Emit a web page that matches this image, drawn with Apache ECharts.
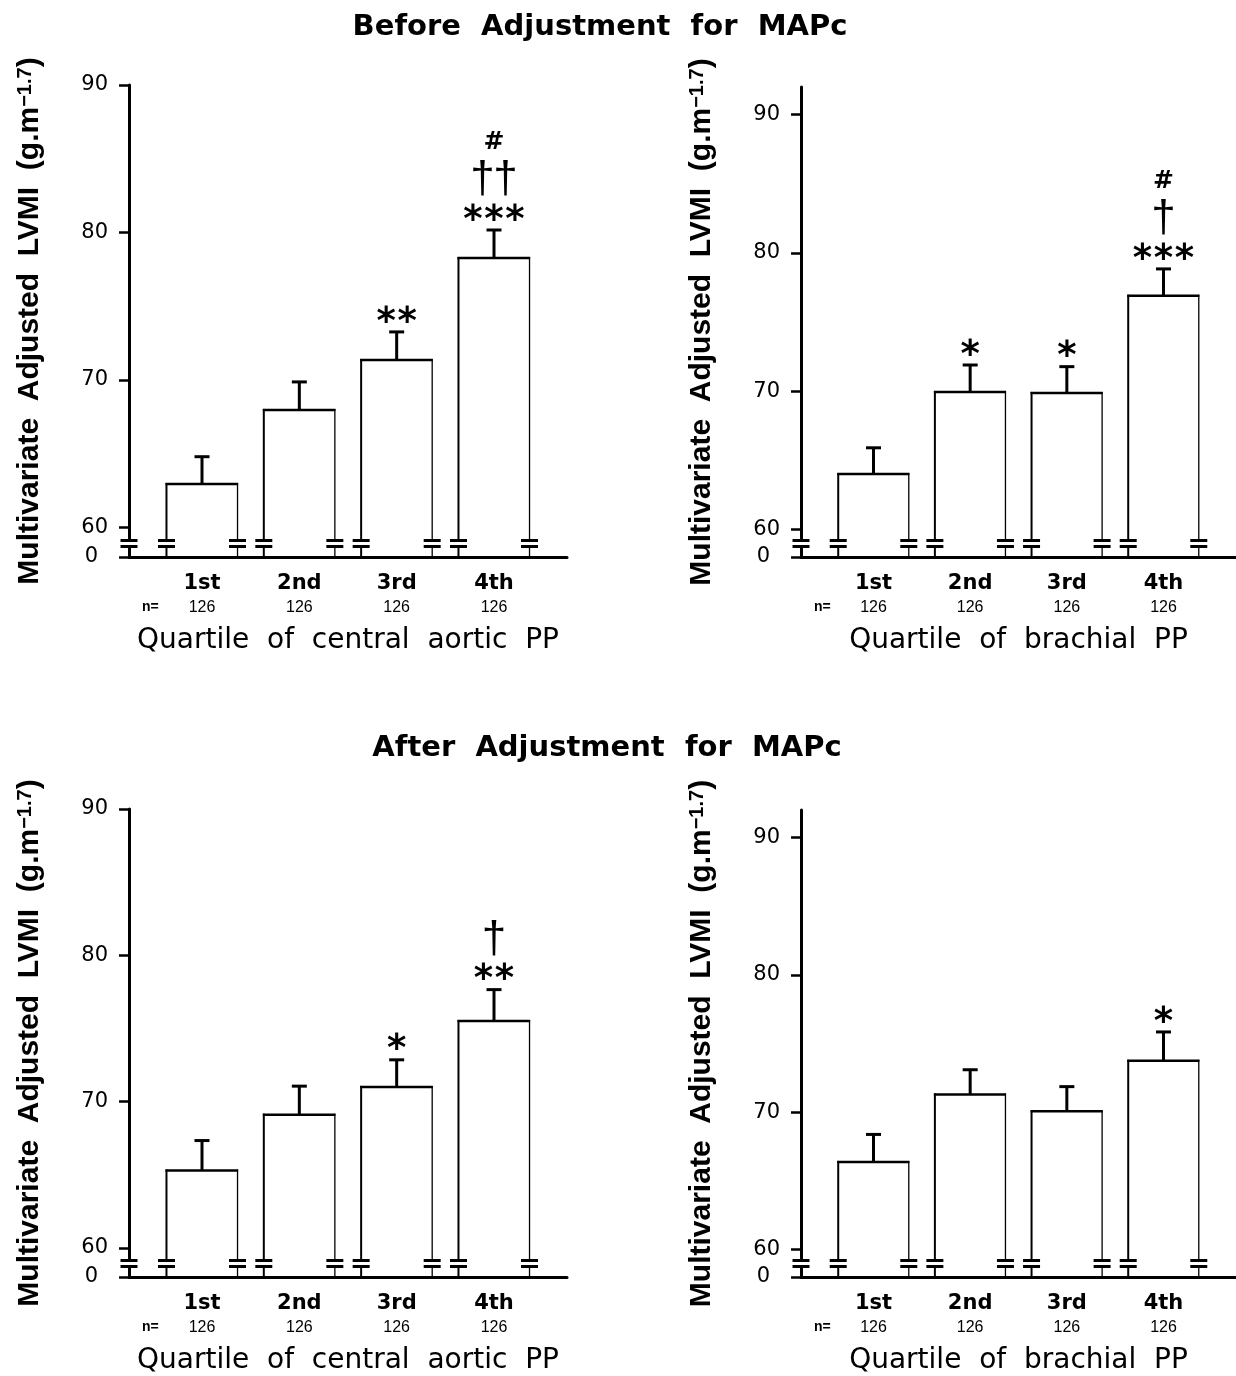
<!DOCTYPE html>
<html>
<head>
<meta charset="utf-8">
<script src="https://cdn.jsdelivr.net/npm/echarts@6/dist/echarts.min.js"></script>
<style>
  html, body { margin: 0; padding: 0; background: #fff; }
  #chart { width: 1236px; height: 1376px; }
</style>
</head>
<body>
<div id="chart"></div>
<script>
// quartile categories and group sizes
var quartiles = ['1st', '2nd', '3rd', '4th'];
var groupSizes = [126, 126, 126, 126];
var yTickValues = [60, 70, 80, 90];

// before adjustment for MAPc
var beforeCentralMean = [62.95, 67.97, 71.36, 78.27];
var beforeCentralSem = [1.85, 1.9, 1.9, 1.9];
var beforeCentralStars = ['', '', '**', '***'];
var beforeCentralDaggers = ['', '', '', '††'];
var beforeCentralHashes = ['', '', '', '#'];

var beforeBrachialMean = [64.0, 69.94, 69.87, 76.89];
var beforeBrachialSem = [1.9, 1.95, 1.9, 1.95];
var beforeBrachialStars = ['', '*', '*', '***'];
var beforeBrachialDaggers = ['', '', '', '†'];
var beforeBrachialHashes = ['', '', '', '#'];

// after adjustment for MAPc
var afterCentralMean = [65.28, 69.1, 71.0, 75.5];
var afterCentralSem = [2.05, 1.95, 1.85, 2.15];
var afterCentralStars = ['', '', '*', '**'];
var afterCentralDaggers = ['', '', '', '†'];
var afterCentralHashes = ['', '', '', ''];

var afterBrachialMean = [66.38, 71.29, 70.06, 73.74];
var afterBrachialSem = [2.0, 1.8, 1.8, 2.1];
var afterBrachialStars = ['', '', '', '*'];
var afterBrachialDaggers = ['', '', '', ''];
var afterBrachialHashes = ['', '', '', ''];

var Y_MIN = 58;      // baseline, shown as "0" (broken axis)
var BAR_W = 0.73;    // bar width in x units
var BLACK = '#000';

var panels = [
  { grid: { left: 129, top: 85, width: 438, height: 472 }, yMax: 90,
    xName: 'Quartile  of  central  aortic  PP',
    mean: beforeCentralMean, sem: beforeCentralSem,
    stars: beforeCentralStars, daggers: beforeCentralDaggers, hashes: beforeCentralHashes },
  { grid: { left: 801, top: 87, width: 435, height: 470 }, yMax: 92,
    xName: 'Quartile  of  brachial  PP',
    mean: beforeBrachialMean, sem: beforeBrachialSem,
    stars: beforeBrachialStars, daggers: beforeBrachialDaggers, hashes: beforeBrachialHashes },
  { grid: { left: 129, top: 809, width: 438, height: 470 }, yMax: 90,
    xName: 'Quartile  of  central  aortic  PP',
    mean: afterCentralMean, sem: afterCentralSem,
    stars: afterCentralStars, daggers: afterCentralDaggers, hashes: afterCentralHashes },
  { grid: { left: 801, top: 810, width: 435, height: 471 }, yMax: 92,
    xName: 'Quartile  of  brachial  PP',
    mean: afterBrachialMean, sem: afterBrachialSem,
    stars: afterBrachialStars, daggers: afterBrachialDaggers, hashes: afterBrachialHashes }
];

function seg(x1, y1, x2, y2, w) {
  return { type: 'line', shape: { x1: x1, y1: y1, x2: x2, y2: y2 },
           style: { stroke: BLACK, lineWidth: w, lineCap: 'butt' } };
}

// the "=" break mark drawn across a vertical line at x
function breakMark(x, yb) {
  return [
    { type: 'rect', shape: { x: x - 3, y: yb - 15, width: 6, height: 3 }, style: { fill: '#fff' } },
    seg(x - 8.5, yb - 16.5, x + 8.5, yb - 16.5, 3),
    seg(x - 8.5, yb - 10.5, x + 8.5, yb - 10.5, 3)
  ];
}

function spaced(str) {
  // each mark in its own box so they sit apart like the original
  return str.split('').map(function (c) { return '{s|' + c + '}'; }).join('');
}

function makeRender(panel) {
  return function (params, api) {
    var idx = params.dataIndex;
    var xv = api.value(0), mean = api.value(1), sem = api.value(2);
    var top = api.coord([xv, mean]);
    var base = api.coord([xv, Y_MIN]);
    var cap = api.coord([xv, mean + sem]);
    var w = api.size([BAR_W, 0])[0];
    var x0 = top[0] - w / 2, x1 = top[0] + w / 2;
    var yt = top[1], yb = base[1], yc = cap[1];
    var kids = [];
    kids.push({ type: 'rect', shape: { x: x0, y: yt, width: w, height: yb - yt - 2 }, style: { fill: '#fff' } });
    kids.push(seg(x0, yt - 1, x0, yb, 2));
    kids.push(seg(x1, yt - 1, x1, yb, 1.3));
    kids.push(seg(x0 - 1, yt, x1 + 0.6, yt, 2.5));
    kids = kids.concat(breakMark(x0, yb), breakMark(x1, yb));
    if (idx === 0) {
      kids = kids.concat(breakMark(params.coordSys.x, yb));
    }
    kids.push(seg(top[0], yt, top[0], yc, 3));
    kids.push(seg(top[0] - 7.5, yc, top[0] + 7.5, yc, 3));

    var st = panel.stars[idx], dg = panel.daggers[idx], hs = panel.hashes[idx];
    if (st) {
      kids.push({ type: 'text', style: {
        text: spaced(st), x: top[0], y: yc - 9, align: 'center', verticalAlign: 'middle',
        rich: { s: { width: 21, align: 'center', fontFamily: 'DejaVu Sans', fontWeight: 'bold', fontSize: 37, fill: BLACK } }
      } });
    }
    if (dg) {
      kids.push({ type: 'text', style: {
        text: spaced(dg), x: top[0], y: yc - 50, align: 'center', verticalAlign: 'middle',
        rich: { s: { width: 23, align: 'center', fontFamily: 'Liberation Sans', fontSize: 44, fill: BLACK } }
      } });
    }
    if (hs) {
      kids.push({ type: 'text', style: {
        text: hs, x: top[0], y: yc - 87, align: 'center', verticalAlign: 'middle',
        fontFamily: 'DejaVu Sans', fontWeight: 'bold', fontSize: 25, fill: BLACK
      } });
    }
    return { type: 'group', children: kids };
  };
}

var grids = [], xAxes = [], yAxes = [], series = [];
panels.forEach(function (p, i) {
  grids.push(p.grid);
  xAxes.push({
    type: 'value', gridIndex: i, min: 0.25, max: 4.75,
    splitLine: { show: false },
    axisTick: { show: false },
    axisLine: { onZero: false, lineStyle: { color: BLACK, width: 3 } },
    axisLabel: {
      customValues: [0.47, 1, 2, 3, 4],
      margin: 13,
      formatter: function (v) {
        if (v < 0.9) return '{q| }\n{nl|n=}';
        var k = Math.round(v) - 1;
        return '{q|' + quartiles[k] + '}\n{n|' + groupSizes[k] + '}';
      },
      rich: {
        q: { fontFamily: 'DejaVu Sans', fontWeight: 'bold', fontSize: 21, lineHeight: 27, color: BLACK },
        n: { fontFamily: 'Liberation Sans', fontSize: 16, lineHeight: 21, color: BLACK },
        nl: { fontFamily: 'Liberation Sans', fontWeight: 'bold', fontSize: 14, lineHeight: 21, color: BLACK }
      }
    },
    name: p.xName,
    nameLocation: 'middle',
    nameGap: 70,
    nameTextStyle: { fontFamily: 'DejaVu Sans', fontSize: 28, color: BLACK }
  });
  yAxes.push({
    type: 'value', gridIndex: i, min: Y_MIN, max: p.yMax,
    splitLine: { show: false },
    axisLine: { lineStyle: { color: BLACK, width: 3 } },
    axisTick: { customValues: [Y_MIN].concat(yTickValues), length: 10, lineStyle: { color: BLACK, width: 2.5 } },
    axisLabel: {
      customValues: [Y_MIN].concat(yTickValues),
      margin: 21,
      fontFamily: 'DejaVu Sans', fontSize: 21, color: BLACK,
      formatter: function (v) { return v === Y_MIN ? '{z|0}' : String(v); },
      rich: { z: { fontFamily: 'DejaVu Sans', fontSize: 21, color: BLACK, padding: [0, 10, 0, 0] } }
    },
    name: 'Multivariate  Adjusted  LVMI  (g.m{sup|−1.7})',
    nameLocation: 'middle',
    nameGap: 84,
    nameTextStyle: {
      fontFamily: 'Liberation Sans', fontWeight: 'bold', fontSize: 30, color: BLACK,
      rich: { sup: { fontFamily: 'Liberation Sans', fontWeight: 'bold', fontSize: 20, verticalAlign: 'top', lineHeight: 20, color: BLACK } }
    }
  });
  series.push({
    type: 'custom', xAxisIndex: i, yAxisIndex: i,
    renderItem: makeRender(p),
    data: p.mean.map(function (m, k) { return [k + 1, m, p.sem[k]]; }),
    z: 5
  });
});

var chart = echarts.init(document.getElementById('chart'));
chart.setOption({
  backgroundColor: '#fff',
  animation: false,
  grid: grids,
  xAxis: xAxes,
  yAxis: yAxes,
  series: series,
  graphic: [
    { type: 'text', x: 600, y: 27, style: { text: 'Before  Adjustment  for  MAPc', align: 'center', verticalAlign: 'middle',
      fontFamily: 'DejaVu Sans', fontWeight: 'bold', fontSize: 29, fill: BLACK } },
    { type: 'text', x: 607, y: 748, style: { text: 'After  Adjustment  for  MAPc', align: 'center', verticalAlign: 'middle',
      fontFamily: 'DejaVu Sans', fontWeight: 'bold', fontSize: 29, fill: BLACK } }
  ]
});
</script>
</body>
</html>
